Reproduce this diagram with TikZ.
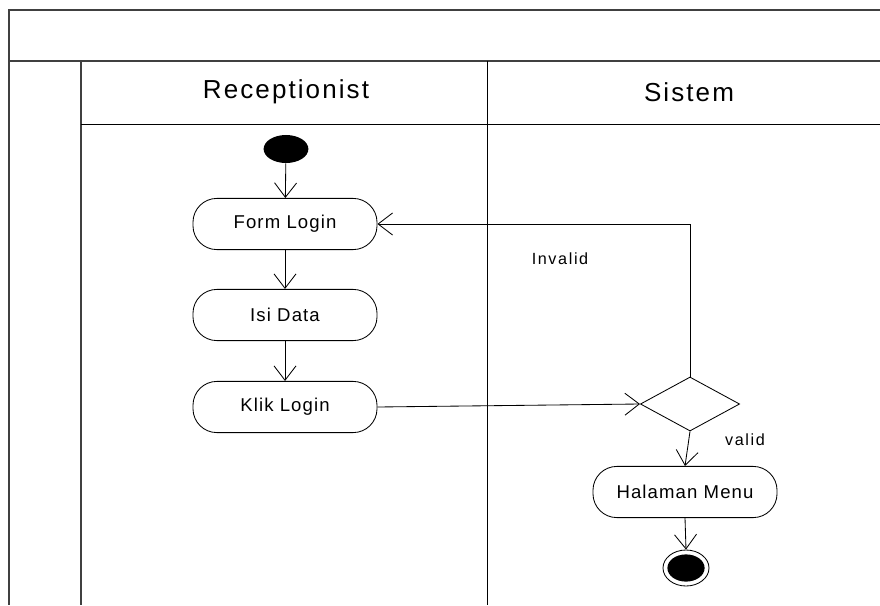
\documentclass[tikz,border=0pt]{standalone}
\usepackage{fontspec}
\setmainfont[LetterSpace=6]{Liberation Sans}
\newfontfamily\headfont[LetterSpace=8]{Liberation Sans}
\newfontfamily\lblfont[LetterSpace=10]{Liberation Sans}
\usepackage{tikz}
\usetikzlibrary{arrows.meta,shapes.geometric,positioning}

\begin{document}
\begin{tikzpicture}[x=0.025cm, y=-0.025cm,
    lane/.style={draw=black!75, line width=0.9pt},
    act/.style={draw, rounded corners=17pt, line width=0.6pt, minimum width=4.6cm, minimum height=1.28cm, font=\fontsize{13.2}{15}\selectfont},
    decision/.style={draw, diamond, line width=0.6pt, minimum width=2.48cm, minimum height=1.35cm, inner sep=0pt},
    start_st/.style={ellipse, fill=black, minimum width=1.12cm, minimum height=0.7cm, inner sep=0pt},
    end_out/.style={ellipse, draw, line width=0.6pt, fill=white, minimum width=1.15cm, minimum height=0.9cm, inner sep=0pt},
    end_in/.style={ellipse, fill=black, minimum width=0.93cm, minimum height=0.68cm, inner sep=0pt},
    conn/.style={-{Straight Barb[length=3.6mm, width=5.5mm]}, line width=0.6pt},
    lbl/.style={font=\lblfont\fontsize{11.5}{13}\selectfont},
    head/.style={font=\headfont\fontsize{18.5}{21}\selectfont}
]
    \useasboundingbox (0,0) rectangle (880,605);

    % Swimlane frame
    \draw[lane] (880,10) -- (9,10) -- (9,605);
    \draw[lane] (9,61) -- (880,61);
    \draw[lane] (81,61) -- (81,605);
    \draw[line width=0.6pt] (81,124) -- (880,124);
    \draw[line width=0.6pt] (487,61) -- (487,605);
    \node[head] (h_rec) at (286,92) {Receptionist};
    \node[head] (h_sis) at (689,92) {Sistem};

    % Receptionist lane
    \node[start_st] (r_start) at (286,149) {};
    \node[act] (r_form) at (285,224) {Form Login};
    \node[act] (r_isi) at (285,315) {Isi Data};
    \node[act] (r_klik) at (285,407) {Klik Login};

    % Sistem lane
    \node[decision] (s_dec) at (690,404) {};
    \node[act] (s_menu) at (685,492) {Halaman Menu};
    \node[end_out] (s_end) at (686,568) {};
    \node[end_in] (s_end_in) at (s_end) {};

    % Flows
    \draw[conn] (r_start) -- (r_form);
    \draw[conn] (r_form) -- (r_isi);
    \draw[conn] (r_isi) -- (r_klik);
    \draw[conn] (r_klik.east) -- (s_dec.west);
    \draw[conn] (s_dec.north) |- (r_form.east);
    \draw[conn] (s_dec.south) -- (s_menu.north);
    \draw[conn] (s_menu.south) -- (s_end.north);

    \node[lbl] (l_inv) at (560,259) {Invalid};
    \node[lbl] (l_val) at (745,440) {valid};
\end{tikzpicture}
\end{document}
